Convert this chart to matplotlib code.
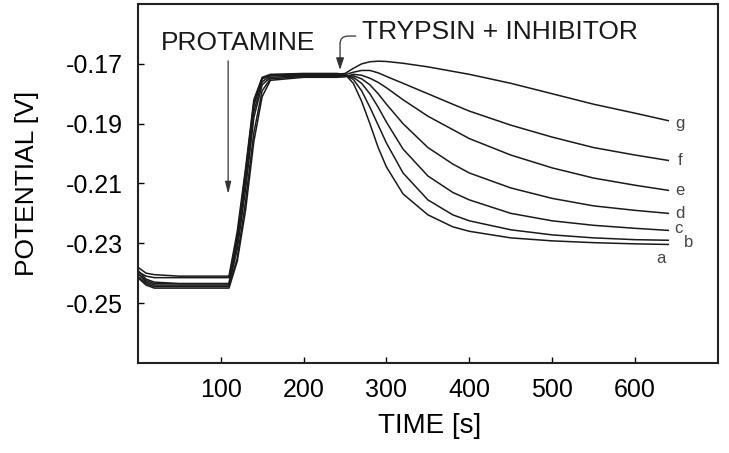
import numpy as np
import matplotlib.pyplot as plt

plt.rcParams['font.family'] = ['Liberation Sans', 'DejaVu Sans']

# time axis shared by all traces [s]
time_s = [0, 10, 20, 50, 100, 110, 120, 130, 140, 150, 160, 200, 240, 250,
          260, 270, 280, 290, 300, 320, 350, 380, 400, 450, 500, 550, 600, 640]

# potential traces [V], a .. g
pot_a = [-0.238, -0.240, -0.2405, -0.241, -0.241, -0.241, -0.226, -0.205, -0.182, -0.1745, -0.1735, -0.1732, -0.1732, -0.1735,
         -0.1765, -0.1825, -0.190, -0.198, -0.2045, -0.2135, -0.2205, -0.2245, -0.226, -0.2282, -0.2292, -0.2298, -0.2302, -0.2304]
pot_b = [-0.239, -0.242, -0.243, -0.2435, -0.2435, -0.2435, -0.229, -0.208, -0.184, -0.175, -0.1738, -0.1735, -0.1735, -0.1737,
         -0.1752, -0.1790, -0.1845, -0.1905, -0.1965, -0.2065, -0.2155, -0.2205, -0.2225, -0.2255, -0.2272, -0.2282, -0.2288, -0.229]
pot_c = [-0.240, -0.243, -0.244, -0.244, -0.244, -0.244, -0.232, -0.212, -0.188, -0.177, -0.1745, -0.174, -0.174, -0.174,
         -0.1745, -0.1765, -0.1800, -0.1845, -0.1895, -0.1985, -0.2075, -0.2130, -0.2155, -0.2200, -0.2225, -0.2240, -0.2250, -0.2257]
pot_d = [-0.241, -0.2435, -0.2445, -0.2445, -0.2445, -0.2445, -0.235, -0.216, -0.193, -0.179, -0.175, -0.1742, -0.1742, -0.1742,
         -0.1740, -0.1750, -0.1770, -0.1800, -0.1835, -0.1900, -0.1980, -0.2035, -0.2065, -0.2115, -0.2150, -0.2175, -0.2190, -0.2200]
pot_e = [-0.2415, -0.244, -0.245, -0.245, -0.245, -0.245, -0.236, -0.219, -0.196, -0.181, -0.1755, -0.1745, -0.1745, -0.1743,
         -0.1735, -0.1738, -0.1748, -0.1762, -0.1780, -0.1820, -0.1875, -0.1920, -0.1950, -0.2005, -0.2048, -0.2082, -0.2106, -0.2123]
pot_f = [-0.240, -0.2425, -0.2435, -0.2435, -0.2435, -0.2435, -0.230, -0.209, -0.186, -0.176, -0.174, -0.1738, -0.1738, -0.1736,
         -0.1728, -0.1722, -0.1722, -0.1730, -0.1742, -0.1765, -0.1800, -0.1835, -0.1858, -0.1905, -0.1945, -0.1980, -0.2005, -0.2023]
pot_g = [-0.2395, -0.241, -0.2415, -0.2415, -0.2415, -0.2415, -0.228, -0.206, -0.183, -0.175, -0.1737, -0.1735, -0.1735, -0.1732,
         -0.1715, -0.1700, -0.1693, -0.1691, -0.1692, -0.1698, -0.1710, -0.1725, -0.1735, -0.1765, -0.1800, -0.1835, -0.1865, -0.1890]

traces = [pot_a, pot_b, pot_c, pot_d, pot_e, pot_f, pot_g]

# curve labels and where they sit
curve_labels = ['a', 'b', 'c', 'd', 'e', 'f', 'g']
label_x = [631, 664, 652, 654, 654, 654, 654]
label_y = [-0.2350, -0.2297, -0.2250, -0.2200, -0.2123, -0.2023, -0.1900]

fig = plt.figure(figsize=(7.29, 4.53), dpi=100)
ax = fig.add_axes([0.189, 0.199, 0.796, 0.792])

for pot in traces:
    ax.plot(time_s, pot, color='#1a1a1a', linewidth=1.1)

for lab, lx, ly in zip(curve_labels, label_x, label_y):
    ax.text(lx, ly, lab, fontsize=12, color='#444444', ha='center', va='center')

# protamine addition
ax.annotate('', xy=(109, -0.2135), xytext=(109, -0.1690),
            arrowprops=dict(arrowstyle='-|>,head_length=0.6,head_width=0.15', color='#333333', lw=0.9,
                            mutation_scale=12, shrinkA=0, shrinkB=0))
ax.text(121, -0.1630, 'PROTAMINE', fontsize=19, ha='center', va='center', color='#1a1a1a')

# trypsin + inhibitor addition
ax.annotate('', xy=(244, -0.1720), xytext=(263, -0.1607),
            arrowprops=dict(arrowstyle='-|>,head_length=0.6,head_width=0.2', color='#333333', lw=0.9,
                            mutation_scale=12, shrinkA=0, shrinkB=0,
                            connectionstyle='angle,angleA=0,angleB=90,rad=8'))
ax.text(437, -0.1593, 'TRYPSIN + INHIBITOR', fontsize=19, ha='center', va='center', color='#1a1a1a')

ax.set_xlim(0, 700)
ax.set_ylim(-0.27, -0.15)
ax.set_xticks([100, 200, 300, 400, 500, 600])
ax.set_yticks([-0.25, -0.23, -0.21, -0.19, -0.17])
ax.set_yticklabels(['-0.25', '-0.23', '-0.21', '-0.19', '-0.17'])
ax.tick_params(direction='in', length=4, width=1, labelsize=18)
ax.tick_params(axis='x', pad=11)
ax.tick_params(axis='y', pad=11)
for sp in ax.spines.values():
    sp.set_linewidth(1.5)
    sp.set_color('#222222')

ax.set_xlabel('TIME [s]', fontsize=20)
ax.set_ylabel('POTENTIAL [V]', fontsize=19)
ax.xaxis.set_label_coords(0.503, -0.139)
ax.yaxis.set_label_coords(-0.17, 0.5)

fig.savefig('out.png', dpi=100)
